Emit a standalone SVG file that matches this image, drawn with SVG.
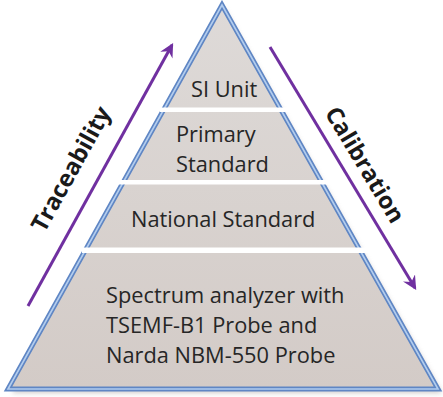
<svg xmlns="http://www.w3.org/2000/svg" width="443" height="397" viewBox="0 0 443 397">
<defs>
<linearGradient id="fillg" x1="0" y1="0" x2="0" y2="1">
<stop offset="0" stop-color="#dedad8"/>
<stop offset="1" stop-color="#d3cbc7"/>
</linearGradient>
<filter id="sh" x="-10%" y="-10%" width="120%" height="120%">
<feGaussianBlur stdDeviation="2.5"/>
</filter>
<marker id="ah" viewBox="0 0 12 12" refX="10" refY="6" markerWidth="14" markerHeight="14" markerUnits="userSpaceOnUse" orient="auto">
<path d="M0,0 L12,6 L0,12 L4,6 Z" fill="#7030a0"/>
</marker>
<style>
.lbl{font-family:"Open Sans","Liberation Sans",sans-serif;font-size:21.8px;fill:#262626}
.side{font-family:"Open Sans","Liberation Sans",sans-serif;font-size:23.5px;font-weight:bold;fill:#1a1a1a}
.arr{stroke:#7030a0;stroke-width:3;fill:none}
.band{fill:#ffffff}
</style>
</defs>
<g id="pyramid">
<polygon points="224,8 12,393 442,393" fill="#b0aaa8" opacity="0.6" filter="url(#sh)"/>
<polygon points="222,5 8,389 438,389" fill="url(#fillg)" stroke="#5f86c4" stroke-width="5" stroke-linejoin="miter"/>
<polygon points="222,5 8,389 438,389" fill="none" stroke="#b3cdee" stroke-width="1.6" stroke-linejoin="miter"/>
</g>
<g id="bands">
<rect class="band" x="160" y="107.5" width="130" height="4.5"/>
<rect class="band" x="119" y="180" width="212" height="4.5"/>
<rect class="band" x="82" y="247.5" width="288" height="5.5"/>
</g>
<g id="node-si">
<text class="lbl" x="191" y="97">SI Unit</text>
</g>
<g id="node-primary">
<text class="lbl" x="176" y="142">Primary</text>
<text class="lbl" x="176" y="172">Standard</text>
</g>
<g id="node-national">
<text class="lbl" x="131" y="227">National Standard</text>
</g>
<g id="node-base">
<text class="lbl" x="106" y="303">Spectrum analyzer with</text>
<text class="lbl" x="106" y="333">TSEMF-B1 Probe and</text>
<text class="lbl" x="106" y="363">Narda NBM-550 Probe</text>
</g>
<g id="connectors">
<line class="arr" x1="28" y1="306" x2="172" y2="45" marker-end="url(#ah)"/>
<line class="arr" x1="270" y1="47" x2="415" y2="288" marker-end="url(#ah)"/>
</g>
<g id="labels">
<text class="side" transform="translate(78,173) rotate(-61)" text-anchor="middle">Traceability</text>
<text class="side" transform="translate(358,169) rotate(59)" text-anchor="middle">Calibration</text>
</g>
</svg>
